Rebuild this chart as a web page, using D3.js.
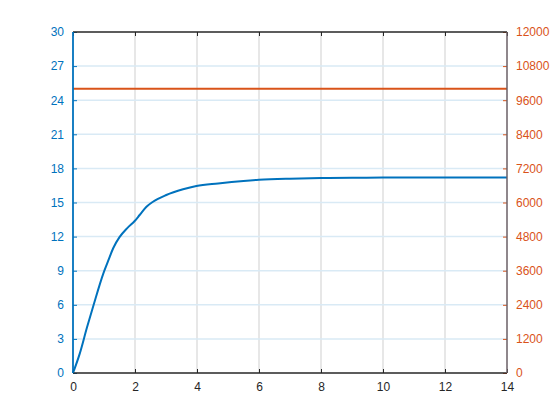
<!DOCTYPE html>
<html><head><meta charset="utf-8">
<script src="https://cdn.jsdelivr.net/npm/d3@7"></script>
<style>body{margin:0;background:#fff}svg{display:block}text{font-family:"Liberation Sans",Arial,sans-serif}</style>
</head><body>
<script>
const xTicks = [0,2,4,6,8,10,12,14];
const leftTicks = [0,3,6,9,12,15,18,21,24,27,30];
const rightTicks = [0,1200,2400,3600,4800,6000,7200,8400,9600,10800,12000];
const blueX = [0,0.22,0.45,0.65,0.98,1.14,1.3,1.5,1.75,1.99,2.15,2.37,2.58,3.01,3.55,3.98,4.68,5.5,6,7,8,9,10,11,12,13,14];
const blueY = [0,1.73,4.0,5.85,8.77,9.9,11.0,11.95,12.75,13.37,13.9,14.63,15.07,15.66,16.16,16.45,16.68,16.9,17.0,17.1,17.15,17.18,17.19,17.2,17.2,17.2,17.2];
const orangeX = [0,14];
const orangeY = [10000,10000];

const W=560,H=420, L=73, R=507, T=32, B=373;
const blue="#0072BD", orange="#D95319", dark="#262626";
const svg=d3.select("body").append("svg").attr("width",W).attr("height",H);
const x=d3.scaleLinear().domain([0,14]).range([L,R]);
const yl=d3.scaleLinear().domain([0,30]).range([B,T]);
const yr=d3.scaleLinear().domain([0,12000]).range([B,T]);

// grid
const g=svg.append("g");
g.selectAll(".vg").data(xTicks.slice(1,-1)).enter().append("line")
 .attr("x1",d=>x(d)).attr("x2",d=>x(d)).attr("y1",T).attr("y2",B)
 .attr("stroke","#dfdfdf").attr("stroke-width",1.5);
g.selectAll(".hg").data(leftTicks.slice(1,-1)).enter().append("line")
 .attr("x1",L).attr("x2",R).attr("y1",d=>yl(d)).attr("y2",d=>yl(d))
 .attr("stroke","#d9eaf5").attr("stroke-width",1.5);

// data lines
const lineB=d3.line().x((d,i)=>x(blueX[i])).y(d=>yl(d)).curve(d3.curveMonotoneX);
svg.append("path").datum(blueY).attr("d",lineB).attr("fill","none").attr("stroke",blue).attr("stroke-width",2);
const lineO=d3.line().x((d,i)=>x(orangeX[i])).y(d=>yr(d));
svg.append("path").datum(orangeY).attr("d",lineO).attr("fill","none").attr("stroke",orange).attr("stroke-width",2);

// axes
function styleAxis(sel,color){
  sel.select(".domain").remove();
  sel.selectAll(".tick line").attr("stroke",color);
  sel.selectAll(".tick text").attr("fill",color).style("font-size","12px");
}
const xa=svg.append("g").attr("transform",`translate(0,${B})`)
 .call(d3.axisBottom(x).tickValues(xTicks).tickSize(-4).tickPadding(9).tickFormat(d3.format("d")));
styleAxis(xa,dark);
const xt=svg.append("g").attr("transform",`translate(0,${T})`)
 .call(d3.axisTop(x).tickValues(xTicks).tickSize(-4).tickFormat(""));
styleAxis(xt,dark);
const la=svg.append("g").attr("transform",`translate(${L},0)`)
 .call(d3.axisLeft(yl).tickValues(leftTicks).tickSize(-4).tickPadding(9).tickFormat(d3.format("d")));
styleAxis(la,blue);
const ra=svg.append("g").attr("transform",`translate(${R},0)`)
 .call(d3.axisRight(yr).tickValues(rightTicks).tickSize(-4).tickPadding(9).tickFormat(d3.format("d")));
styleAxis(ra,orange);

// spines
svg.append("line").attr("x1",L).attr("x2",R).attr("y1",T).attr("y2",T).attr("stroke",dark).attr("stroke-width",1.5);
svg.append("line").attr("x1",L).attr("x2",R).attr("y1",B).attr("y2",B).attr("stroke",dark).attr("stroke-width",1.5);
svg.append("line").attr("x1",R).attr("x2",R).attr("y1",T).attr("y2",B).attr("stroke","#6a5f66").attr("stroke-width",1.5);
svg.append("line").attr("x1",L).attr("x2",L).attr("y1",T).attr("y2",B).attr("stroke",blue).attr("stroke-width",1.8);
</script>
</body></html>
